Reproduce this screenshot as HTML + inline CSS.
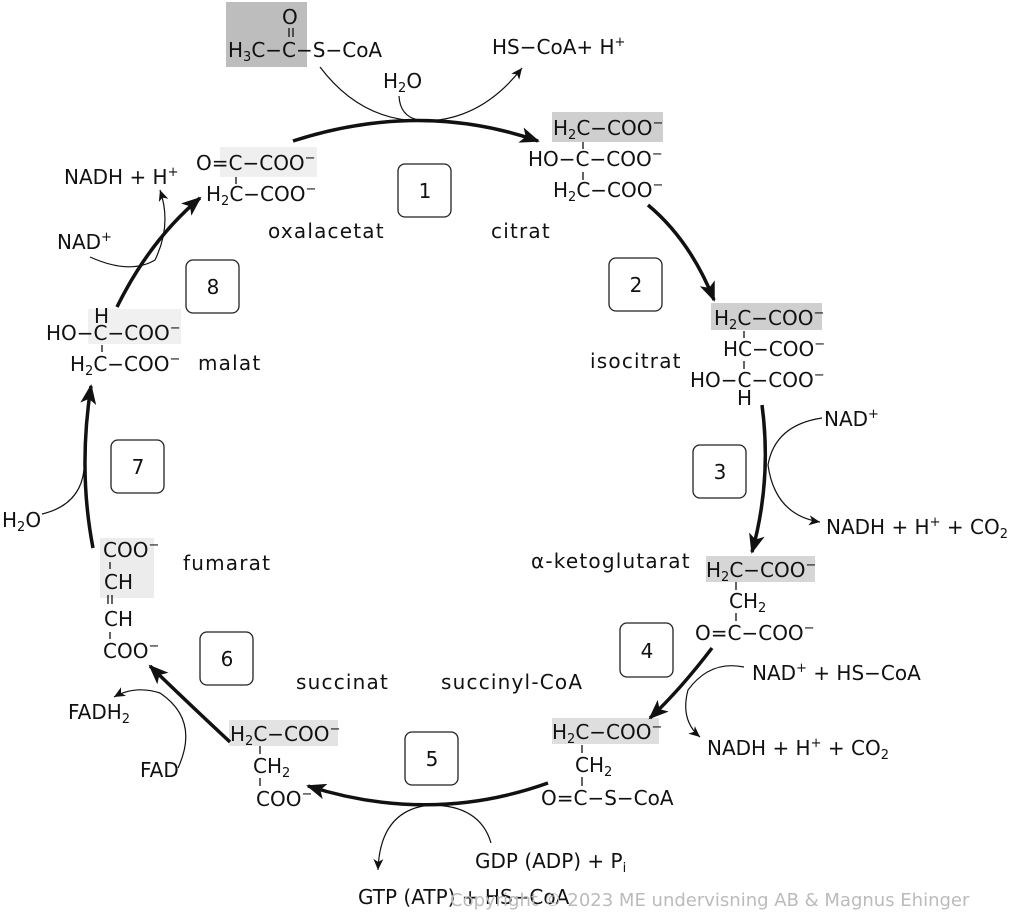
<!DOCTYPE html>
<html><head><meta charset="utf-8"><style>
html,body{margin:0;padding:0;background:#fff;}
svg{display:block;}
text{font-family:"DejaVu Sans","Liberation Sans",sans-serif;font-size:20px;fill:#111;}
.s{font-size:13px;}
.n{font-size:20px;letter-spacing:1.2px;}
.cp{fill:#bbb;font-size:18px;}
</style></head><body>
<svg width="1024" height="912" viewBox="0 0 1024 912" xmlns="http://www.w3.org/2000/svg">
<defs>
<marker id="bigA" markerWidth="20" markerHeight="16" refX="18" refY="8" orient="auto" markerUnits="userSpaceOnUse">
<path d="M0,0 L20,8 L0,16 L5,8 Z" fill="#111"/></marker>
<marker id="thin" markerWidth="12" markerHeight="10" refX="11" refY="5" orient="auto" markerUnits="userSpaceOnUse">
<path d="M0,0 L11,5 L0,10 L3,5 Z" fill="#111"/></marker>
</defs>

<rect x="226" y="2" width="81" height="65" fill="#bdbdbd"/>
<rect x="220" y="147" width="97" height="30" fill="#efefef"/>
<rect x="552" y="112" width="111" height="30" fill="#cfcfcf"/>
<rect x="711" y="303" width="111" height="27" fill="#cfcfcf"/>
<rect x="706" y="556" width="109" height="26" fill="#d6d6d6"/>
<rect x="552" y="718" width="107" height="26" fill="#dedede"/>
<rect x="229" y="720" width="109" height="26" fill="#e3e3e3"/>
<rect x="100" y="538" width="54" height="60" fill="#ececec"/>
<rect x="88" y="309" width="93" height="35" fill="#f0f0f0"/>

<g fill="none" stroke="#222" stroke-width="1.3">
<rect x="398" y="164" width="53" height="53" rx="7"/>
<rect x="609" y="258" width="53" height="53" rx="7"/>
<rect x="693" y="445" width="53" height="53" rx="7"/>
<rect x="620" y="623" width="53" height="54" rx="7"/>
<rect x="405" y="732" width="53" height="53" rx="7"/>
<rect x="200" y="632" width="53" height="53" rx="7"/>
<rect x="111" y="440" width="53" height="53" rx="7"/>
<rect x="186" y="260" width="53" height="53" rx="7"/>
</g>
<g text-anchor="middle">
<text x="425" y="198">1</text><text x="636" y="292">2</text><text x="720" y="479">3</text>
<text x="647" y="658">4</text><text x="432" y="766">5</text><text x="227" y="666">6</text>
<text x="138" y="474">7</text><text x="213" y="294">8</text>
</g>

<g fill="none" stroke="#111" stroke-width="3.5">
<path d="M293,141 Q420,100 538,141" marker-end="url(#bigA)"/>
<path d="M648,205 Q690,240 714,300" marker-end="url(#bigA)"/>
<path d="M762,405 Q772,480 752,552" marker-end="url(#bigA)"/>
<path d="M712,648 Q680,690 650,718" marker-end="url(#bigA)"/>
<path d="M548,783 Q430,825 308,786" marker-end="url(#bigA)"/>
<path d="M230,742 Q185,700 150,666" marker-end="url(#bigA)"/>
<path d="M93,548 Q78,470 91,386" marker-end="url(#bigA)"/>
<path d="M117,307 Q150,240 200,198" marker-end="url(#bigA)"/>
</g>

<g fill="none" stroke="#111" stroke-width="1.2">
<path d="M320,67 Q360,120 420,121 Q480,122 522,68" marker-end="url(#thin)"/>
<path d="M399,96 Q400,116 418,120"/>
<path d="M822,418 Q775,425 768,465 Q775,515 820,522" marker-end="url(#thin)"/>
<path d="M744,667 Q710,660 688,690 Q680,720 700,737" marker-end="url(#thin)"/>
<path d="M491,843 Q480,805 430,805 Q380,810 378,870" marker-end="url(#thin)"/>
<path d="M178,768 Q200,720 160,693 Q135,685 114,697" marker-end="url(#thin)"/>
<path d="M42,514 Q80,505 84,470"/>
<path d="M90,257 Q130,275 155,260 Q172,225 160,190" marker-end="url(#thin)"/>
</g>

<g stroke="#111" stroke-width="1.3">
<line x1="289" y1="28" x2="289" y2="37"/><line x1="293" y1="28" x2="293" y2="37"/>
<line x1="236" y1="177" x2="236" y2="184"/>
<line x1="583" y1="142" x2="583" y2="149"/><line x1="583" y1="172" x2="583" y2="180"/>
<line x1="744" y1="331" x2="744" y2="338"/><line x1="744" y1="361" x2="744" y2="369"/>
<line x1="736" y1="582" x2="736" y2="590"/><line x1="736" y1="613" x2="736" y2="621"/>
<line x1="582" y1="745" x2="582" y2="753"/><line x1="582" y1="777" x2="582" y2="786"/>
<line x1="260" y1="746" x2="260" y2="754"/><line x1="260" y1="778" x2="260" y2="786"/>
<line x1="110" y1="562" x2="110" y2="569"/><line x1="108" y1="595" x2="108" y2="604"/><line x1="112" y1="595" x2="112" y2="604"/><line x1="110" y1="632" x2="110" y2="639"/>
<line x1="102" y1="345" x2="102" y2="352"/>
</g>

<text x="282" y="24">O</text>
<text x="228" y="57">H<tspan class="s" dy="4">3</tspan><tspan dy="-4">C−C−S−CoA</tspan></text>
<text x="492" y="54">HS−CoA+ H<tspan class="s" dy="-8">+</tspan></text>
<text x="383" y="88">H<tspan class="s" dy="4">2</tspan><tspan dy="-4">O</tspan></text>

<text x="196" y="170">O=C−COO<tspan class="s" dy="-8">−</tspan></text>
<text x="206" y="201">H<tspan class="s" dy="4">2</tspan><tspan dy="-4">C−COO</tspan><tspan class="s" dy="-8">−</tspan></text>
<text class="n" x="268" y="238">oxalacetat</text>
<text x="64" y="184">NADH + H<tspan class="s" dy="-8">+</tspan></text>
<text x="57" y="249">NAD<tspan class="s" dy="-8">+</tspan></text>

<text x="553" y="135">H<tspan class="s" dy="4">2</tspan><tspan dy="-4">C−COO</tspan><tspan class="s" dy="-8">−</tspan></text>
<text x="528" y="166">HO−C−COO<tspan class="s" dy="-8">−</tspan></text>
<text x="553" y="197">H<tspan class="s" dy="4">2</tspan><tspan dy="-4">C−COO</tspan><tspan class="s" dy="-8">−</tspan></text>
<text class="n" x="491" y="238">citrat</text>

<text x="714" y="325">H<tspan class="s" dy="4">2</tspan><tspan dy="-4">C−COO</tspan><tspan class="s" dy="-8">−</tspan></text>
<text x="723" y="356">HC−COO<tspan class="s" dy="-8">−</tspan></text>
<text x="690" y="387">HO−C−COO<tspan class="s" dy="-8">−</tspan></text>
<text x="737" y="405">H</text>
<text class="n" x="590" y="368">isocitrat</text>
<text x="824" y="426">NAD<tspan class="s" dy="-8">+</tspan></text>
<text x="826" y="534">NADH + H<tspan class="s" dy="-8">+</tspan><tspan dy="8"> + CO</tspan><tspan class="s" dy="4">2</tspan></text>

<text class="n" x="531" y="568">α-ketoglutarat</text>
<text x="706" y="577">H<tspan class="s" dy="4">2</tspan><tspan dy="-4">C−COO</tspan><tspan class="s" dy="-8">−</tspan></text>
<text x="729" y="608">CH<tspan class="s" dy="4">2</tspan></text>
<text x="695" y="640">O=C−COO<tspan class="s" dy="-8">−</tspan></text>
<text x="752" y="680">NAD<tspan class="s" dy="-8">+</tspan><tspan dy="8"> + HS−CoA</tspan></text>
<text x="707" y="755">NADH + H<tspan class="s" dy="-8">+</tspan><tspan dy="8"> + CO</tspan><tspan class="s" dy="4">2</tspan></text>

<text class="n" x="441" y="689">succinyl-CoA</text>
<text x="552" y="739">H<tspan class="s" dy="4">2</tspan><tspan dy="-4">C−COO</tspan><tspan class="s" dy="-8">−</tspan></text>
<text x="575" y="772">CH<tspan class="s" dy="4">2</tspan></text>
<text x="541" y="805">O=C−S−CoA</text>
<text x="475" y="868">GDP (ADP) + P<tspan class="s" dy="4">i</tspan></text>
<text x="358" y="904">GTP (ATP) + HS−CoA</text>

<text class="n" x="296" y="689">succinat</text>
<text x="230" y="741">H<tspan class="s" dy="4">2</tspan><tspan dy="-4">C−COO</tspan><tspan class="s" dy="-8">−</tspan></text>
<text x="253" y="773">CH<tspan class="s" dy="4">2</tspan></text>
<text x="256" y="806">COO<tspan class="s" dy="-8">−</tspan></text>
<text x="140" y="777">FAD</text>
<text x="68" y="719">FADH<tspan class="s" dy="4">2</tspan></text>

<text x="103" y="557">COO<tspan class="s" dy="-8">−</tspan></text>
<text x="104" y="589">CH</text>
<text x="104" y="626">CH</text>
<text x="103" y="658">COO<tspan class="s" dy="-8">−</tspan></text>
<text class="n" x="183" y="570">fumarat</text>
<text x="2" y="527">H<tspan class="s" dy="4">2</tspan><tspan dy="-4">O</tspan></text>

<text x="94" y="323">H</text>
<text x="46" y="340">HO−C−COO<tspan class="s" dy="-8">−</tspan></text>
<text x="70" y="371">H<tspan class="s" dy="4">2</tspan><tspan dy="-4">C−COO</tspan><tspan class="s" dy="-8">−</tspan></text>
<text class="n" x="198" y="370">malat</text>

<text class="cp" x="450" y="906">Copyright © 2023 ME undervisning AB &amp; Magnus Ehinger</text>
</svg>
</body></html>
